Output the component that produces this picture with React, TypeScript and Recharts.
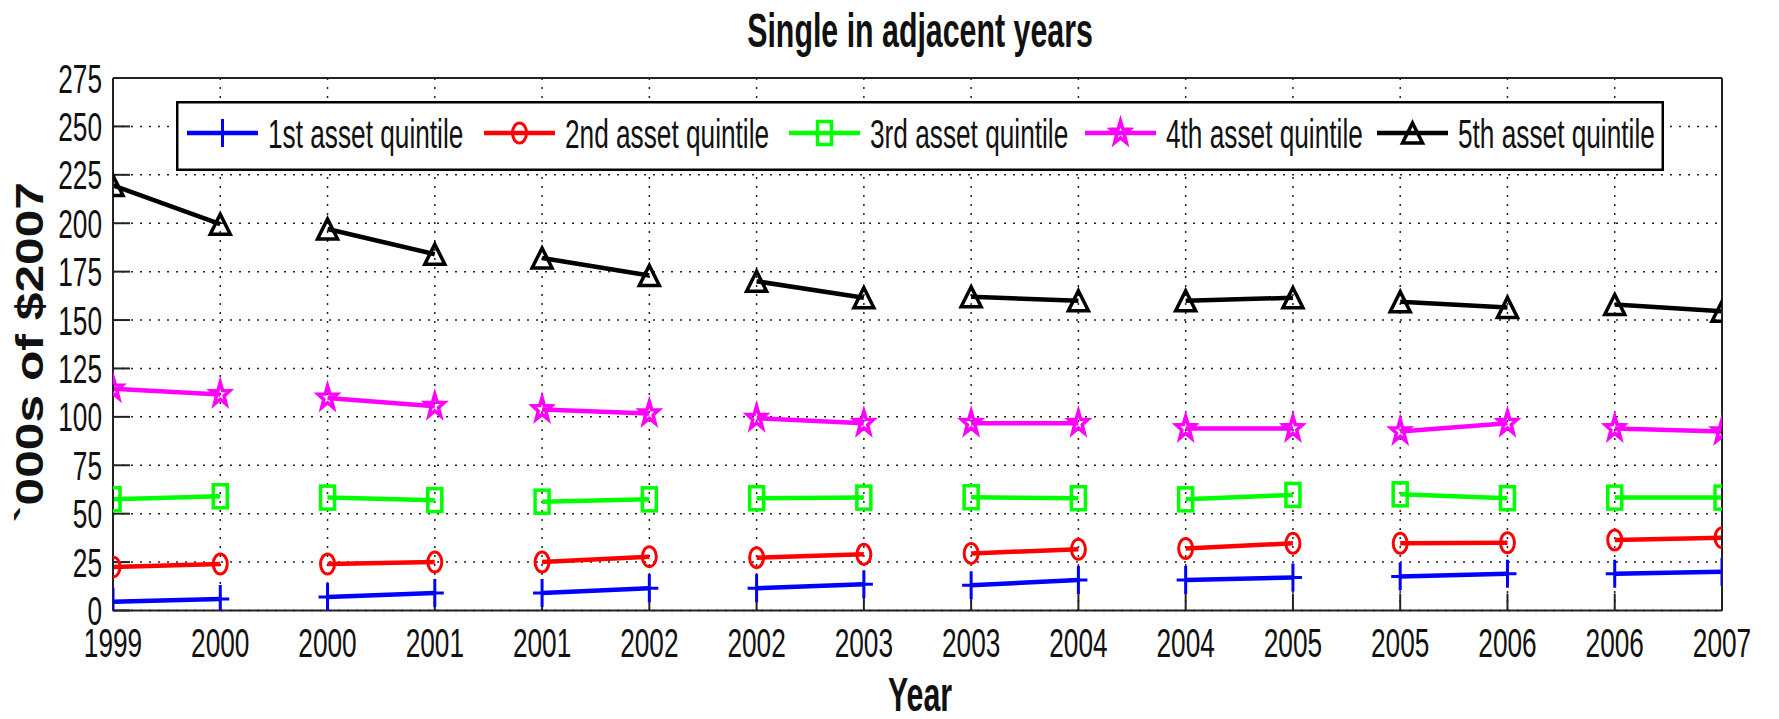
import React from "react";
import { LineChart, Line, XAxis, YAxis, CartesianGrid } from "recharts";

// the reference uses Arial Narrow, stretched a bit vertically; we get that
// look from Liberation Sans squeezed horizontally
const SANS = "'Liberation Sans', Arial, sans-serif";
const SX = 0.82;
const SY = 1.28;

// each pair of ticks is one "adjacent years" segment
const yearLabels = [
  "1999", "2000", "2000", "2001", "2001", "2002", "2002", "2003",
  "2003", "2004", "2004", "2005", "2005", "2006", "2006", "2007",
];
const yTicks = [0, 25, 50, 75, 100, 125, 150, 175, 200, 225, 250, 275];

const q1 = [4.5, 6, 7, 9, 9, 11.5, 11.5, 13.5, 13, 15.8, 15.8, 17, 17.5, 19, 19, 20];
const q2 = [22.5, 24, 24, 25, 25, 27.8, 27.3, 29, 29.5, 31.6, 32, 34.7, 34.7, 35, 36.4, 37.6];
const q3 = [57.5, 59, 58.3, 57, 56.2, 57.4, 58, 58.3, 58.5, 58, 57.4, 59.7, 60, 58, 58.3, 58.3];
const q4 = [114.5, 111.6, 109.8, 105.5, 103.8, 101.7, 99.3, 96.7, 96.7, 96.7, 94, 94, 92.4, 96.7, 94, 92.4];
const q5 = [219.5, 199.5, 197, 184, 182, 173, 170, 161.5, 162, 160, 160, 161.5, 159.5, 156.5, 158, 154.5];

type Shape = "plus" | "circle" | "square" | "star" | "triangle";

const series: { key: string; name: string; color: string; shape: Shape; values: number[] }[] = [
  { key: "q1", name: "1st asset quintile", color: "#0000ff", shape: "plus", values: q1 },
  { key: "q2", name: "2nd asset quintile", color: "#ff0000", shape: "circle", values: q2 },
  { key: "q3", name: "3rd asset quintile", color: "#00ff00", shape: "square", values: q3 },
  { key: "q4", name: "4th asset quintile", color: "#ff00ff", shape: "star", values: q4 },
  { key: "q5", name: "5th asset quintile", color: "#000000", shape: "triangle", values: q5 },
];

// legend item offsets inside the box (px)
const legendOffsets = [11, 308, 613, 909, 1201];

// rows at 0..15, with an empty row between pairs so the lines break
const rows: Record<string, number | null>[] = [];
yearLabels.forEach((_, i) => {
  const row: Record<string, number | null> = { x: i };
  series.forEach((s) => (row[s.key] = s.values[i]));
  rows.push(row);
  if (i % 2 === 1 && i < yearLabels.length - 1) {
    const gap: Record<string, number | null> = { x: i + 0.5 };
    series.forEach((s) => (gap[s.key] = null));
    rows.push(gap);
  }
});
const xTicks = yearLabels.map((_, i) => i);

function starPoints(cx: number, cy: number) {
  const pts: string[] = [];
  for (let k = 0; k < 10; k++) {
    const a = ((-90 + k * 36) * Math.PI) / 180;
    const r = k % 2 === 0 ? 10 : 4;
    pts.push(`${cx + r * Math.cos(a)},${cy + r * Math.sin(a) * 1.2}`);
  }
  return pts.join(" ");
}

function Marker({ shape, color, cx, cy }: { shape: Shape; color: string; cx: number; cy: number }) {
  switch (shape) {
    case "plus":
      return (
        <g stroke={color} strokeWidth={3}>
          <line x1={cx - 9} x2={cx + 9} y1={cy} y2={cy} />
          <line x1={cx} x2={cx} y1={cy - 14} y2={cy + 14} />
        </g>
      );
    case "circle":
      return <ellipse cx={cx} cy={cy} rx={7} ry={10} fill="none" stroke={color} strokeWidth={3} />;
    case "square":
      return <rect x={cx - 7} y={cy - 11.5} width={14} height={23} fill="none" stroke={color} strokeWidth={3.5} />;
    case "star":
      return <polygon points={starPoints(cx, cy)} fill="none" stroke={color} strokeWidth={3.5} />;
    default:
      return (
        <polygon
          points={`${cx},${cy - 10} ${cx + 10},${cy + 10} ${cx - 10},${cy + 10}`}
          fill="none"
          stroke={color}
          strokeWidth={3.5}
        />
      );
  }
}

const makeDot = (shape: Shape, color: string) => (props: any) => {
  const { cx, cy, index, value } = props;
  if (value == null || cx == null || cy == null) return <g key={`e${index}`} />;
  return (
    <g key={`d${index}`}>
      <Marker shape={shape} color={color} cx={cx} cy={cy} />
    </g>
  );
};

const XTick = (props: any) => {
  const { x, y, payload } = props;
  return (
    <text
      transform={`translate(${x},${y}) scale(${SX},${SY})`}
      textAnchor="middle"
      fontFamily={SANS}
      fontSize={32}
      fill="#111"
    >
      {yearLabels[payload.value]}
    </text>
  );
};

const YTick = (props: any) => {
  const { x, y, payload } = props;
  return (
    <text
      transform={`translate(${x},${y + 14.5}) scale(${SX},${SY})`}
      textAnchor="end"
      fontFamily={SANS}
      fontSize={32}
      fill="#111"
    >
      {payload.value}
    </text>
  );
};

const axisStroke = { stroke: "#222", strokeWidth: 2 };

const App = () => {
  return (
    <div style={{ position: "relative", width: 1779, height: 719, background: "#fff" }}>
      <style>{`body{margin:0}`}</style>
      <LineChart
        width={1779}
        height={719}
        data={rows}
        margin={{ top: 77, right: 56, left: 0, bottom: 58.5 }}
      >
        <CartesianGrid stroke="#222" strokeWidth={1.5} strokeDasharray="2 7" />
        <XAxis
          dataKey="x"
          type="number"
          domain={[0, 15]}
          ticks={xTicks}
          allowDataOverflow
          interval={0}
          height={50}
          tickSize={-17}
          tickMargin={63.5}
          axisLine={axisStroke}
          tickLine={axisStroke}
          tick={<XTick />}
          label={(p: any) => (
            <text
              transform={`translate(${p.viewBox.x + p.viewBox.width / 2 + 2.5},711) scale(${SX},${SY})`}
              textAnchor="middle"
              fontFamily={SANS}
              fontWeight="bold"
              fontSize={37}
              fill="#111"
            >
              Year
            </text>
          )}
        />
        <XAxis
          xAxisId="top"
          orientation="top"
          type="number"
          domain={[0, 15]}
          ticks={xTicks}
          allowDataOverflow
          interval={0}
          height={1}
          tickSize={-17}
          axisLine={axisStroke}
          tickLine={axisStroke}
          tick={false}
          label={(p: any) => (
            <text
              transform={`translate(${p.viewBox.x + p.viewBox.width / 2 + 2.5},47) scale(${SX},${SY})`}
              textAnchor="middle"
              fontFamily={SANS}
              fontWeight="bold"
              fontSize={37}
              fill="#111"
            >
              Single in adjacent years
            </text>
          )}
        />
        <YAxis
          type="number"
          domain={[0, 275]}
          ticks={yTicks}
          allowDataOverflow
          interval={0}
          width={113}
          tickSize={-17}
          tickMargin={28}
          axisLine={axisStroke}
          tickLine={axisStroke}
          tick={<YTick />}
          label={() => (
            <text
              x={29}
              y={352}
              transform="rotate(-90 29 352)"
              dy="0.36em"
              textAnchor="middle"
              fontFamily={SANS}
              fontWeight="bold"
              fontSize={39}
              textLength={340}
              lengthAdjust="spacingAndGlyphs"
              fill="#111"
            >
              `000s of $2007
            </text>
          )}
        />
        <YAxis
          yAxisId="right"
          orientation="right"
          type="number"
          domain={[0, 275]}
          ticks={yTicks}
          allowDataOverflow
          interval={0}
          width={1}
          tickSize={-17}
          axisLine={axisStroke}
          tickLine={axisStroke}
          tick={false}
        />
        {series.map((s) => (
          <Line
            key={s.key}
            type="linear"
            dataKey={s.key}
            name={s.name}
            stroke={s.color}
            strokeWidth={4.5}
            dot={makeDot(s.shape, s.color)}
            activeDot={false}
            connectNulls={false}
            isAnimationActive={false}
          />
        ))}
      </LineChart>

      {/* legend box, drawn over the grid like MATLAB's */}
      <svg
        width={1488}
        height={70}
        style={{ position: "absolute", left: 176, top: 101, background: "#fff" }}
      >
        <rect x={1.25} y={1.25} width={1485.5} height={67.5} fill="#fff" stroke="#000" strokeWidth={2.5} />
        {series.map((s, i) => {
          const x0 = legendOffsets[i];
          return (
            <g key={s.key}>
              <line x1={x0} x2={x0 + 71} y1={32} y2={32} stroke={s.color} strokeWidth={4.5} />
              <Marker shape={s.shape} color={s.color} cx={x0 + 35.5} cy={32} />
              <text
                transform={`translate(${x0 + 81},47) scale(${SX},${SY})`}
                fontFamily={SANS}
                fontSize={32}
                fill="#111"
              >
                {s.name}
              </text>
            </g>
          );
        })}
      </svg>
    </div>
  );
};

export default App;
